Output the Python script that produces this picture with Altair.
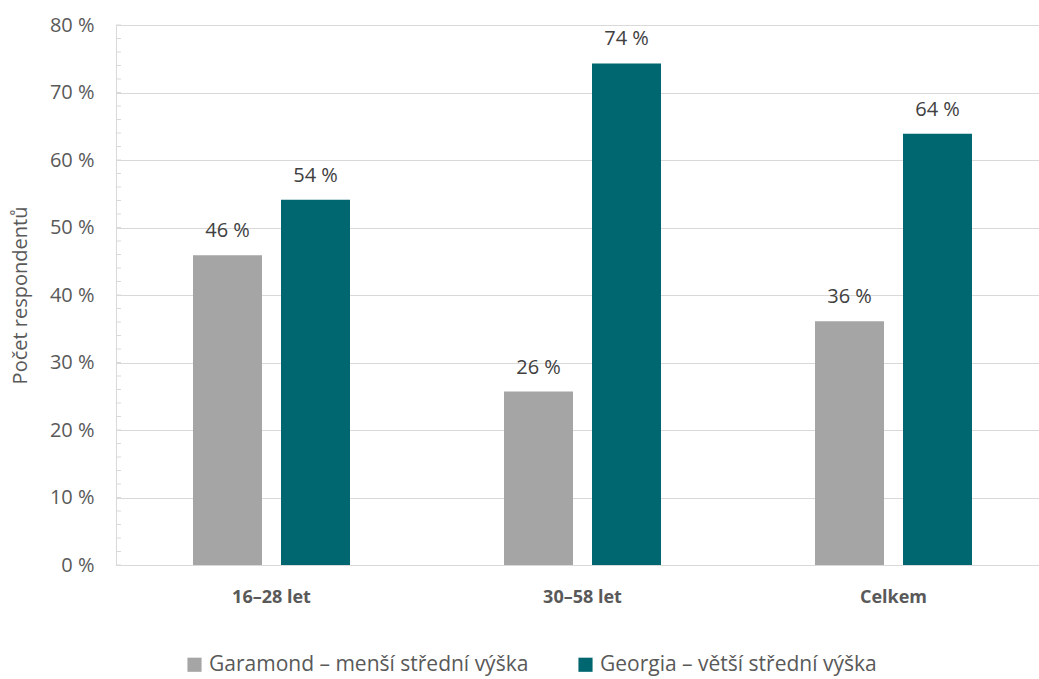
import altair as alt
import pandas as pd

# Survey results: share of respondents preferring each typeface, by age group
groups = ["16–28 let", "30–58 let", "Celkem"]
series = ["Garamond – menší střední výška", "Georgia – větší střední výška"]
garamond = [45.9, 25.7, 36.1]
georgia = [54.1, 74.3, 63.9]
colors = ["#A5A5A5", "#006670"]
minor_ticks = list(range(0, 82, 2))

rows = []
for g, a, b in zip(groups, garamond, georgia):
    rows.append({"group": g, "series": series[0], "value": a})
    rows.append({"group": g, "series": series[1], "value": b})
df = pd.DataFrame(rows)

FONT = "Open Sans"
FS = 20
y_scale = alt.Scale(domain=[0, 80])

x_enc = alt.X(
    "group:N",
    sort=groups,
    scale=alt.Scale(range=[0, 933], paddingInner=0, paddingOuter=0),
    axis=alt.Axis(
        title=None, domain=False, ticks=False, labelAngle=0,
        labelFont=FONT, labelFontSize=18, labelFontWeight="bold",
        labelColor="#595959", labelPadding=23,
    ),
)
xoff_enc = alt.XOffset(
    "series:N", sort=series,
    scale=alt.Scale(paddingInner=0.216, paddingOuter=0.875),
)

base = alt.Chart(df)

bars = base.mark_bar().encode(
    x=x_enc,
    xOffset=xoff_enc,
    y=alt.Y(
        "value:Q", scale=y_scale,
        axis=alt.Axis(
            title="Počet respondentů", values=list(range(0, 90, 10)),
            labelExpr="datum.value + ' %'",
            grid=True, gridColor="#D9D9D9", gridWidth=1,
            domain=True, domainColor="#D9D9D9", ticks=False,
            labelFont=FONT, labelFontSize=FS, labelColor="#595959",
            labelPadding=22, titleFont=FONT, titleFontSize=FS,
            titleFontWeight="normal", titleColor="#595959", titlePadding=19,
        ),
    ),
    color=alt.Color(
        "series:N", sort=series,
        scale=alt.Scale(domain=series, range=colors),
        legend=alt.Legend(
            title=None, orient="none", legendX=68, legendY=629,
            direction="horizontal", symbolType="square", symbolSize=200,
            symbolStrokeWidth=0, labelFont=FONT, labelFontSize=21,
            labelColor="#595959", columnPadding=46, labelOffset=4,
            labelLimit=0,
        ),
    ),
)

labels = base.transform_calculate(
    label="format(datum.value, '.0f') + ' %'"
).mark_text(
    baseline="alphabetic", dy=-18, font=FONT, fontSize=FS, color="#404040"
).encode(
    x=x_enc,
    xOffset=xoff_enc,
    y=alt.Y("value:Q", scale=y_scale),
    text="label:N",
)

ticks = alt.Chart(pd.DataFrame({"v": minor_ticks})).mark_rule(
    color="#D9D9D9", strokeWidth=1
).encode(
    y=alt.Y("v:Q", scale=y_scale),
    x=alt.value(0),
    x2=alt.value(5),
)

chart = alt.layer(ticks, bars, labels).properties(
    width=923,
    height=540,
    autosize=alt.AutoSizeParams(type="none"),
    padding={"left": 116, "top": 25, "right": 0, "bottom": 114},
).configure_view(stroke=None).configure(background="white")

chart.save("out.html", embed_options={"renderer": "svg", "actions": False})
